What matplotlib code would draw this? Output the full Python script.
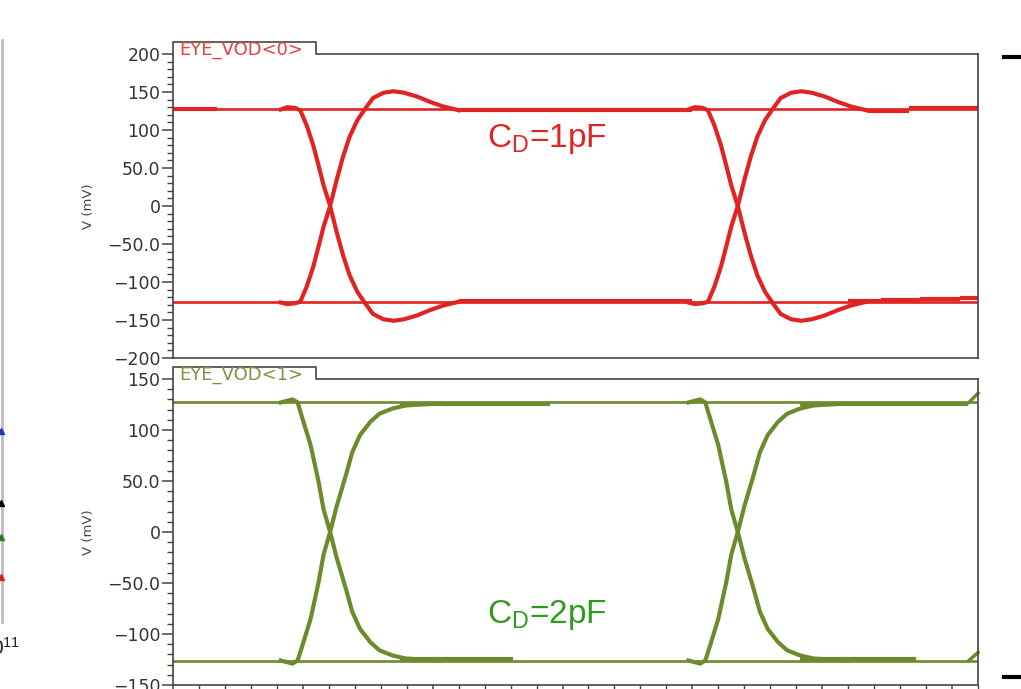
import numpy as np
import matplotlib
matplotlib.use("Agg")
import matplotlib.pyplot as plt
from matplotlib.lines import Line2D
from matplotlib.ticker import MultipleLocator, FixedLocator, FixedFormatter

plt.rcParams["mathtext.default"] = "regular"

W, H = 1021, 689

# ---- data (time in ps, voltage in mV) ----
cross_t = [121, 435]          # eye crossing times

# red trace (C_D = 1pF), times relative to crossing
red_dt = [-38, -33, -27, -23, -18, -13, -9, -5, 0, 5, 10, 15, 21, 27, 33, 41, 49, 57, 67, 77, 87, 99]
red_rise = [-127, -129, -128, -126, -106, -80, -54, -27, 0, 34, 65, 91, 113, 128, 142, 149, 151, 149, 144, 137, 131, 126]
red_fall = [127, 130, 129, 126, 106, 80, 54, 27, 0, -34, -65, -91, -113, -128, -142, -149, -151, -149, -144, -137, -131, -126]
red_hi, red_lo = 127, -126
red_hi_segs = [(0, 34, 127), (220, 400, 126), (535, 567, 125), (567, 620, 129)]
red_lo_segs = [(220, 400, -125), (520, 545, -125), (545, 575, -124), (575, 606, -122.5), (606, 620, -121)]

# green trace (C_D = 2pF)
green_dt = [-38, -29, -25, -21, -15, -9, -5, 0, 5, 12, 17, 23, 31, 38, 48, 58, 69, 85]
green_rise = [-126, -129, -126, -110, -85, -50, -22, 0, 25, 55, 78, 95, 108, 116, 121, 124, 125, 126]
green_fall = [127, 130, 127, 110, 85, 50, 22, 0, -25, -55, -78, -95, -108, -116, -121, -124, -125, -126]
green_hi, green_lo = 127, -126
green_hi_segs = [(175, 290, 125.5), (483, 612, 125.5)]
green_lo_segs = [(175, 262, -124.5), (483, 572, -124.5)]
end_t = [613, 620]
green_hi_end = [127, 136]
green_lo_end = [-126, -118]

top_yticks = [200, 150, 100, 50, 0, -50, -100, -150, -200]
top_ylabels = ["200", "150", "100", "50.0", "0", "\u221250.0", "\u2212100", "\u2212150", "\u2212200"]
bot_yticks = [150, 100, 50, 0, -50, -100, -150]
bot_ylabels = ["150", "100", "50.0", "0", "\u221250.0", "\u2212100", "\u2212150"]

RED = "#e02424"
GREEN = "#6d8a2c"
FRAME = "#454545"


def fx(px):
    return px / W


def fy(py):
    return 1 - py / H


fig = plt.figure(figsize=(W / 100, H / 100), dpi=100)
fig.patch.set_facecolor("white")

ax1 = fig.add_axes([fx(173), fy(358), 805 / W, 304 / H])
ax2 = fig.add_axes([fx(173), fy(685), 805 / W, 306 / H])


def style_axes(ax, ylim, yticks, ylabels, tab_label, color, tab_dy, text_dy):
    ax.set_xlim(0, 620)
    ax.set_ylim(*ylim)
    for s in ax.spines.values():
        s.set_color(FRAME)
        s.set_linewidth(1.2)
    ax.spines["top"].set_visible(False)
    tabw = (316 - 173) / 805
    ax.plot([0, 0, tabw, tabw, 1], [1, 1 + tab_dy, 1 + tab_dy, 1, 1],
            transform=ax.transAxes, clip_on=False, color=FRAME, lw=1.2)
    ax.text(6 / 805, 1 + text_dy, tab_label, transform=ax.transAxes,
            color=color, fontsize=13, va="center", ha="left")
    ax.yaxis.set_major_locator(FixedLocator(yticks))
    ax.yaxis.set_major_formatter(FixedFormatter(ylabels))
    ax.yaxis.set_minor_locator(MultipleLocator(10))
    ax.tick_params(axis="y", which="major", length=8, width=1.1, color=FRAME,
                   labelsize=12.5, labelcolor="#333333", pad=1)
    ax.tick_params(axis="y", which="minor", length=4, width=1.0, color=FRAME)
    ax.set_ylabel("V (mV)", fontsize=9.5, color="#444444")
    ax.yaxis.set_label_coords(-(173 - 95) / 805, 0.5)


style_axes(ax1, (-200, 200), top_yticks, top_ylabels, "EYE_VOD<0>", "#e8403c", 12 / 304, 4 / 304)
style_axes(ax2, (-150, 150), bot_yticks, bot_ylabels, "EYE_VOD<1>", "#7a9440", 12 / 306, 4 / 306)

ax1.tick_params(axis="x", which="both", bottom=False, labelbottom=False)
ax2.xaxis.set_major_locator(MultipleLocator(100))
ax2.xaxis.set_minor_locator(MultipleLocator(20))
ax2.tick_params(axis="x", which="major", length=8, width=1.1, color=FRAME, labelbottom=False)
ax2.tick_params(axis="x", which="minor", length=4, width=1.0, color=FRAME)


def draw_eye(ax, color, dt, rise, fall, hi, lo, hi_segs, lo_segs):
    ax.plot([0, 620], [hi, hi], color=color, lw=1.9)
    ax.plot([0, 620], [lo, lo], color=color, lw=1.9)
    for t0, t1, v in hi_segs + lo_segs:
        ax.plot([t0, t1], [v, v], color=color, lw=3.0, solid_capstyle="butt")
    for tc in cross_t:
        t = tc + np.array(dt)
        ax.plot(t, rise, color=color, lw=3.0, solid_joinstyle="round")
        ax.plot(t, fall, color=color, lw=3.0, solid_joinstyle="round")


draw_eye(ax1, RED, red_dt, red_rise, red_fall, red_hi, red_lo, red_hi_segs, red_lo_segs)
draw_eye(ax2, GREEN, green_dt, green_rise, green_fall, green_hi, green_lo,
         green_hi_segs, green_lo_segs)
ax2.plot(end_t, green_hi_end, color=GREEN, lw=2.5, clip_on=False)
ax2.plot(end_t, green_lo_end, color=GREEN, lw=2.5, clip_on=False)

fig.text(fx(547), fy(139), r"C$_\mathregular{D}$=1pF", color=RED, fontsize=24,
         family="Liberation Sans", ha="center", va="center")
fig.text(fx(547), fy(615), r"C$_\mathregular{D}$=2pF", color="#2f9a1e", fontsize=24,
         family="Liberation Sans", ha="center", va="center")

# fragments of neighbouring slides at the edges
fig.add_artist(Line2D([fx(2), fx(2)], [fy(40), fy(622)], color="#bdbdbd", lw=2))
for py, c in [(431, "#1f2fd0"), (503, "black"), (537, "#2f7a2f"), (577, "#d02020")]:
    fig.add_artist(Line2D([fx(1)], [fy(py)], marker="^", color=c, markersize=5, lw=0))
fig.text(fx(-9), fy(648), r"0$^{11}$", fontsize=15, family="Liberation Sans",
         ha="left", va="center", color="#222222")
for py in [57, 677]:
    fig.add_artist(Line2D([fx(1004), fx(1021)], [fy(py), fy(py)], color="black", lw=3))

fig.savefig("out.png", dpi=100, facecolor="white")
